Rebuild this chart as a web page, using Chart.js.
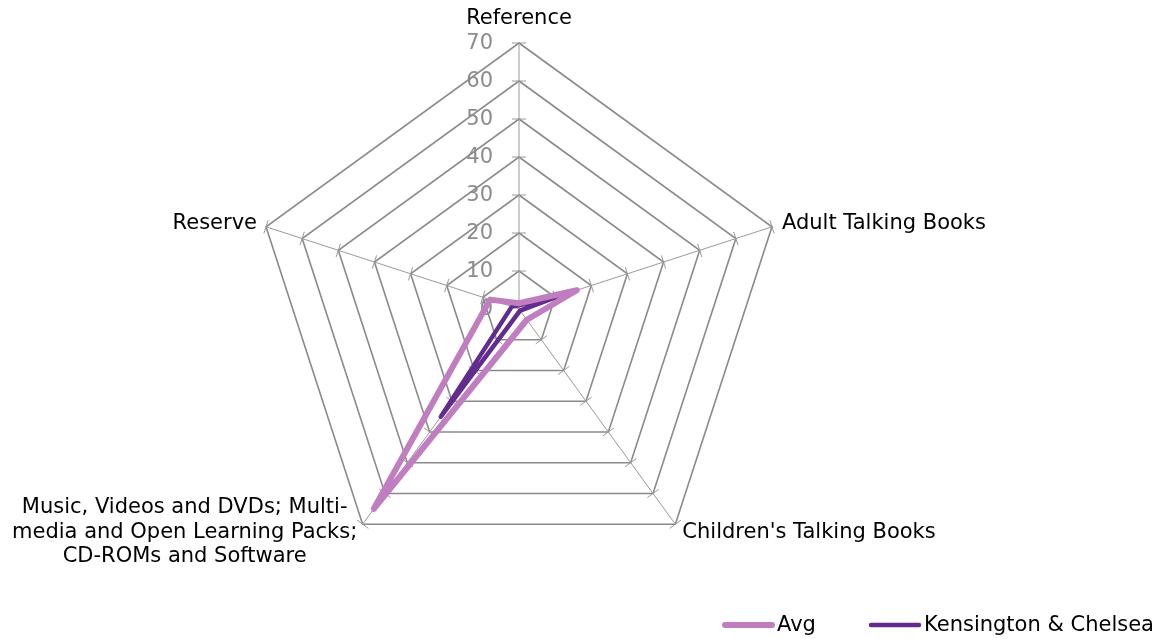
<!DOCTYPE html>
<html>
<head>
<meta charset="utf-8">
<script src="https://cdn.jsdelivr.net/npm/chart.js@4.4.0/dist/chart.umd.min.js"></script>
<style>
    html, body { margin: 0; padding: 0; background: #ffffff; }
    #wrap { width: 1163px; height: 639px; }
</style>
</head>
<body>
<div id="wrap"><canvas id="radarChart" width="1163" height="639"></canvas></div>
<script>
// Categories (clockwise from top)
const categories = [
    'Reference',
    'Adult Talking Books',
    "Children's Talking Books",
    ['Music, Videos and DVDs; Multi-', 'media and Open Learning Packs;', 'CD-ROMs and Software'],
    'Reserve'
];
const avgValues = [1.5, 16, 3.5, 65, 8];
const kensingtonValues = [1, 11, 0.5, 35, 2];
const tickValues = [0, 10, 20, 30, 40, 50, 60, 70];

const FONT = '"DejaVu Sans", Verdana, sans-serif';

// Tick labels and small tick marks on the spokes, drawn under the data lines
const axisDecor = {
    id: 'axisDecor',
    beforeDatasetsDraw(chart) {
        const scale = chart.scales.r;
        const ctx = chart.ctx;
        ctx.save();
        // tick marks
        ctx.strokeStyle = '#9a9a9a';
        ctx.lineWidth = 1;
        for (let i = 0; i < categories.length; i++) {
            const ang = scale.getIndexAngle(i) - Math.PI / 2;
            const px = -Math.sin(ang), py = Math.cos(ang);
            tickValues.forEach(v => {
                if (v === 0) return;
                const p = scale.getPointPositionForValue(i, v);
                ctx.beginPath();
                ctx.moveTo(p.x - px * 7, p.y - py * 7);
                ctx.lineTo(p.x + px * 7, p.y + py * 7);
                ctx.stroke();
            });
        }
        // tick labels
        ctx.fillStyle = '#8c8c8c';
        ctx.font = '21px ' + FONT;
        ctx.textAlign = 'right';
        ctx.textBaseline = 'middle';
        tickValues.forEach(v => {
            const p = scale.getPointPositionForValue(0, v);
            ctx.fillText(String(v), scale.xCenter - 26, p.y + 1);
        });
        ctx.restore();
    },
    afterDraw(chart) {
        const scale = chart.scales.r;
        const ctx = chart.ctx;
        ctx.save();
        ctx.fillStyle = '#000000';
        ctx.font = '21px ' + FONT;
        // point labels
        const outer = tickValues[tickValues.length - 1];
        const place = [
            { dx: 0, dy: -24, align: 'center' },
            { dx: 10, dy: -3, align: 'left' },
            { dx: 7, dy: 8, align: 'left' },
            { dx: -178, dy: 8, align: 'center' },
            { dx: -9, dy: -3, align: 'right' }
        ];
        categories.forEach((label, i) => {
            const p = scale.getPointPositionForValue(i, outer);
            const lines = Array.isArray(label) ? label : [label];
            const o = place[i];
            ctx.textAlign = o.align;
            ctx.textBaseline = 'middle';
            const lh = 24.5;
            const startY = p.y + o.dy - (lines.length - 1) * lh / 2;
            lines.forEach((ln, k) => ctx.fillText(ln, p.x + o.dx, startY + k * lh));
        });
        // legend
        const items = [
            { x: 722, w: 53 },
            { x: 868, w: 54 }
        ];
        ctx.textAlign = 'left';
        ctx.textBaseline = 'middle';
        chart.data.datasets.forEach((ds, i) => {
            const it = items[i];
            const y = 625;
            ctx.strokeStyle = ds.borderColor;
            ctx.lineWidth = ds.borderWidth;
            ctx.lineCap = 'round';
            ctx.beginPath();
            ctx.moveTo(it.x + 3, y);
            ctx.lineTo(it.x + it.w - 3, y);
            ctx.stroke();
            ctx.fillStyle = '#000000';
            ctx.fillText(ds.label, it.x + it.w + 2, y + 1);
        });
        ctx.restore();
    }
};

const whiteBg = {
    id: 'whiteBg',
    beforeDraw(chart) {
        const ctx = chart.ctx;
        ctx.save();
        ctx.fillStyle = '#ffffff';
        ctx.fillRect(0, 0, chart.width, chart.height);
        ctx.restore();
    }
};

new Chart(document.getElementById('radarChart'), {
    type: 'radar',
    data: {
        labels: categories,
        datasets: [
            {
                label: 'Avg',
                data: avgValues,
                borderColor: '#c07ec0',
                backgroundColor: 'rgba(0,0,0,0)',
                borderWidth: 6,
                borderJoinStyle: 'round',
                borderCapStyle: 'round',
                fill: false,
                pointRadius: 0,
                pointHoverRadius: 0,
                tension: 0
            },
            {
                label: 'Kensington & Chelsea',
                data: kensingtonValues,
                borderColor: '#622b8e',
                backgroundColor: 'rgba(0,0,0,0)',
                borderWidth: 4.5,
                borderJoinStyle: 'round',
                borderCapStyle: 'round',
                fill: false,
                pointRadius: 0,
                pointHoverRadius: 0,
                tension: 0
            }
        ]
    },
    options: {
        responsive: false,
        animation: false,
        devicePixelRatio: 1,
        layout: {
            padding: { top: 43, bottom: 64, left: 0, right: 125 }
        },
        plugins: {
            legend: { display: false },
            tooltip: { enabled: false }
        },
        scales: {
            r: {
                min: 0,
                max: 70,
                ticks: { stepSize: 10, display: false },
                pointLabels: { display: false },
                grid: { color: '#8a8a8a', lineWidth: 1.6 },
                angleLines: { color: '#9a9a9a', lineWidth: 1 }
            }
        }
    },
    plugins: [whiteBg, axisDecor]
});
</script>
</body>
</html>
